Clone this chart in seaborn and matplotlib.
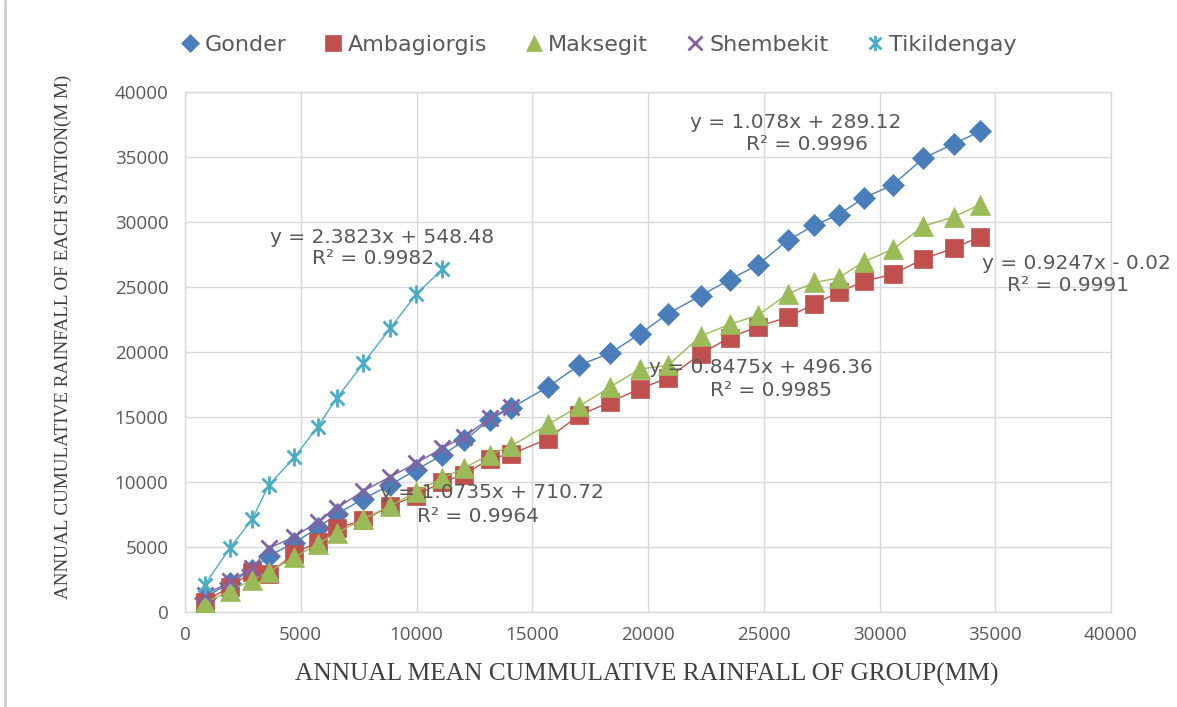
import numpy as np
import pandas as pd
import matplotlib
matplotlib.use("Agg")
import matplotlib.pyplot as plt
from matplotlib.path import Path
from matplotlib.lines import Line2D
import seaborn as sns

# Group mean cumulative rainfall (x) shared by all stations
group_x = [850, 1950, 2900, 3620, 4730, 5730, 6550, 7700, 8860, 9990,
           11100, 12070, 13160, 14100, 15680, 17010, 18380, 19650, 20860, 22270,
           23530, 24740, 26040, 27190, 28240, 29310, 30570, 31900, 33200, 34350]

gonder = [1100, 2250, 3250, 4310, 5330, 6470, 7520, 8700, 9770, 10950,
          12050, 13200, 14800, 15700, 17320, 18970, 19930, 21390, 22950, 24330,
          25570, 26700, 28590, 29750, 30570, 31840, 32850, 34910, 36010, 36980]

ambagiorgis = [800, 1950, 3100, 2950, 4500, 5400, 6450, 7050, 8150, 8950,
               10020, 10560, 11800, 12150, 13330, 15120, 16160, 17180, 18000, 19850,
               21110, 21950, 22680, 23700, 24600, 25430, 25980, 27160, 27990, 28870]

maksegit = [700, 1640, 2460, 3100, 4200, 5250, 6050, 7150, 8150, 9260,
            10280, 11100, 12090, 12780, 14430, 15810, 17320, 18690, 18970, 21220,
            22130, 22820, 24470, 25350, 25700, 26940, 27900, 29690, 30380, 31340]

shembekit = [1300, 2350, 3400, 4900, 5800, 6950, 8000, 9300, 10400, 11450,
             12600, 13500, 14900, 15800]

tikildengay = [2080, 4950, 7130, 9770, 11900, 14260, 16440, 19130, 21820, 24440,
               26360]

stations = ["Gonder", "Ambagiorgis", "Maksegit", "Shembekit", "Tikildengay"]
station_values = [gonder, ambagiorgis, maksegit, shembekit, tikildengay]

equations = ["y = 1.078x + 289.12", "y = 0.8475x + 496.36", "y = 0.9247x - 0.02",
             "y = 1.0735x + 710.72", "y = 2.3823x + 548.48"]
r_squared = ["R² = 0.9996", "R² = 0.9985", "R² = 0.9991", "R² = 0.9964", "R² = 0.9982"]

x_ticks = [0, 5000, 10000, 15000, 20000, 25000, 30000, 35000, 40000]
y_ticks = [0, 5000, 10000, 15000, 20000, 25000, 30000, 35000, 40000]

# Long-form table for seaborn
frames = []
for name, vals in zip(stations, station_values):
    frames.append(pd.DataFrame({"group": group_x[:len(vals)], "value": vals, "station": name}))
df = pd.concat(frames, ignore_index=True)

sns.set_theme(style="white")
plt.rcParams["font.family"] = ["Open Sans", "DejaVu Sans"]

colors = {"Gonder": "#4A7EBB", "Ambagiorgis": "#C0504D", "Maksegit": "#9BBB59",
          "Shembekit": "#8064A2", "Tikildengay": "#4BACC6"}

# Excel-style star: an X with a vertical bar through it
star_path = Path([(-1, -1), (1, 1), (-1, 1), (1, -1), (0, -1.3), (0, 1.3)],
                 [Path.MOVETO, Path.LINETO, Path.MOVETO, Path.LINETO, Path.MOVETO, Path.LINETO])

styles = {
    "Gonder": dict(marker="D", markersize=11, markeredgewidth=0.5),
    "Ambagiorgis": dict(marker="s", markersize=13, markeredgewidth=0.5),
    "Maksegit": dict(marker="^", markersize=14, markeredgewidth=0.5),
    "Shembekit": dict(marker="x", markersize=11.5, markeredgewidth=2.0),
    "Tikildengay": dict(marker=star_path, markersize=13, markeredgewidth=2.0),
}

fig = plt.figure(figsize=(11.77, 7.07), dpi=100)
ax = fig.add_axes([185 / 1177, 1 - 612 / 707, 926 / 1177, 520 / 707])

for i, name in enumerate(stations):
    sub = df[df["station"] == name]
    st = styles[name]
    sns.lineplot(data=sub, x="group", y="value", ax=ax, color=colors[name],
                 linewidth=1.0, sort=False, estimator=None, errorbar=None,
                 marker=st["marker"], markersize=st["markersize"],
                 markeredgewidth=st["markeredgewidth"], markeredgecolor=colors[name],
                 markerfacecolor=colors[name], zorder=3 + i)

ax.set_xlim(0, 40000)
ax.set_ylim(0, 40000)
ax.set_xticks(x_ticks)
ax.set_yticks(y_ticks)
ax.set_xticklabels([str(t) for t in x_ticks])
ax.set_yticklabels([str(t) for t in y_ticks])
ax.grid(True, color="#D9D9D9", linewidth=1.0)
ax.set_axisbelow(True)
for sp in ax.spines.values():
    sp.set_color("#D9D9D9")
    sp.set_linewidth(1.0)
ax.tick_params(axis="both", length=0, labelsize=13.5, colors="#595959", pad=12)
ax.tick_params(axis="x", pad=10)

ax.set_xlabel("ANNUAL MEAN CUMMULATIVE RAINFALL OF GROUP(MM)",
              family="Liberation Serif", fontsize=18.3, color="#404040")
ax.xaxis.set_label_coords(0.499, -0.097)
ax.set_ylabel("ANNUAL CUMULATIVE RAINFALL OF EACH STATION(M M)",
              family="Liberation Serif", fontsize=13.8, color="#404040")
ax.yaxis.set_label_coords(-0.122, 0.53)

# Trendline equations
eq_pos = {
    "Gonder": ((26380, 37690), (26860, 36000)),
    "Ambagiorgis": ((24870, 18770), (25300, 17000)),
    "Maksegit": ((38500, 26770), (38150, 25080)),
    "Shembekit": ((13280, 9230), (12670, 7310)),
    "Tikildengay": ((8520, 28770), (8130, 27230)),
}
for name, eq, r2 in zip(stations, equations, r_squared):
    (ex, ey), (rx, ry) = eq_pos[name]
    ax.text(ex, ey, eq, ha="center", va="center", fontsize=14.5, color="#595959",
            family=["DejaVu Sans"], zorder=20)
    ax.text(rx, ry, r2, ha="center", va="center", fontsize=14.5, color="#595959",
            family=["DejaVu Sans"], zorder=20)

handles = [Line2D([], [], linestyle="none", color=colors[n], marker=styles[n]["marker"],
                  markersize=styles[n]["markersize"] * 0.85,
                  markeredgewidth=styles[n]["markeredgewidth"],
                  markerfacecolor=colors[n], markeredgecolor=colors[n]) for n in stations]
leg = fig.legend(handles, stations, loc="center", bbox_to_anchor=(0.508, 1 - 45 / 707),
                 ncol=5, frameon=False, handletextpad=0.15, columnspacing=1.6,
                 handlelength=1.0, prop={"family": "DejaVu Sans", "size": 16})
for t in leg.get_texts():
    t.set_color("#595959")

# thin frame edge on the left side
fig.add_artist(Line2D([5 / 1177, 5 / 1177], [0, 1], transform=fig.transFigure,
                      color="#D0D0D0", linewidth=2))

fig.savefig("out.png", dpi=100)
